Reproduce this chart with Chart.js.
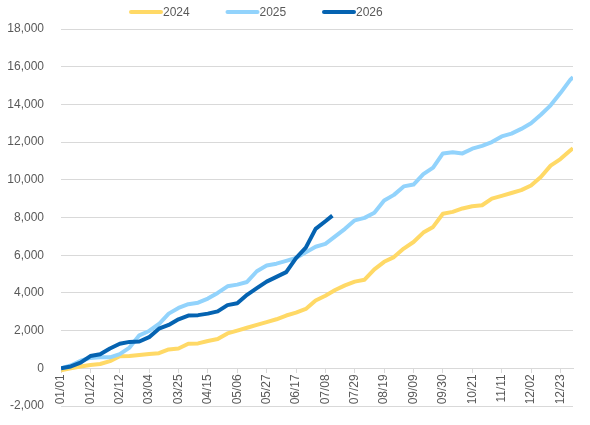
<!DOCTYPE html>
<html lang="en">
<head>
    <meta charset="UTF-8">
    <script src="https://cdn.jsdelivr.net/npm/chart.js"></script>
    <title>Cumulative by year</title>
    <style>
        body { margin: 0; background: #fff; }
        #chart { width: 590px; height: 425px; display: block; }
    </style>
</head>
<body>
    <div id="chart"><canvas id="cumulative"></canvas></div>

    <script>
        // day of year (0 = 01/01), sampled weekly
        const days = [0, 7, 14, 21, 28, 35, 42, 49, 56, 63, 70, 77, 84, 91, 98, 105, 112, 119, 126, 133,
            140, 147, 154, 161, 168, 175, 182, 189, 196, 203, 210, 217, 224, 231, 238, 245, 252, 259, 266,
            273, 280, 287, 294, 301, 308, 315, 322, 329, 336, 343, 350, 357, 364, 366];
        const days2026 = [0, 7, 14, 21, 28, 35, 42, 49, 56, 63, 70, 77, 84, 91, 98, 105, 112, 119, 126, 133,
            140, 147, 154, 161, 168, 175, 182, 189, 194];

        const values2024 = [-100, 0, 100, 180, 230, 380, 640, 650, 700, 760, 800, 1000, 1050, 1300, 1320, 1450,
            1550, 1850, 2000, 2150, 2300, 2450, 2600, 2800, 2950, 3150, 3600, 3850, 4150, 4400, 4600, 4700,
            5250, 5650, 5900, 6350, 6700, 7200, 7500, 8200, 8300, 8480, 8600, 8650, 9000, 9150, 9300, 9450,
            9700, 10150, 10750, 11100, 11550, 11680];
        const values2025 = [0, 150, 400, 550, 580, 580, 750, 1100, 1750, 1980, 2350, 2900, 3200, 3400, 3480, 3700,
            4000, 4350, 4440, 4580, 5150, 5450, 5550, 5700, 5850, 6150, 6450, 6600, 7000, 7400, 7850, 7980,
            8250, 8900, 9200, 9650, 9750, 10300, 10650, 11400, 11460, 11400, 11650, 11800, 12000, 12300, 12450,
            12700, 13000, 13450, 13950, 14600, 15300, 15450];
        const values2026 = [0, 100, 300, 650, 750, 1050, 1300, 1400, 1420, 1650, 2100, 2300, 2600, 2800, 2820, 2900,
            3020, 3350, 3450, 3900, 4250, 4600, 4850, 5100, 5850, 6400, 7400, 7800, 8100];

        const tickLabels = ['01/01', '01/22', '02/12', '03/04', '03/25', '04/15', '05/06', '05/27', '06/17',
            '07/08', '07/29', '08/19', '09/09', '09/30', '10/21', '11/11', '12/02', '12/23'];
        const tickStep = 21;

        const textColor = '#595959';
        const gridColor = '#d9d9d9';

        Chart.defaults.font.family = '"Liberation Sans", Arial, sans-serif';
        Chart.defaults.font.size = 12;
        Chart.defaults.color = textColor;

        function points(xs, ys) {
            return ys.map((y, i) => ({ x: xs[i], y: y }));
        }

        // legend drawn as a row of line samples above the plot
        const topLegend = {
            id: 'topLegend',
            afterDraw(chart) {
                const ctx = chart.ctx;
                ctx.save();
                ctx.font = '12px "Liberation Sans", Arial, sans-serif';
                ctx.textBaseline = 'middle';
                chart.data.datasets.forEach((ds, i) => {
                    const x = 131 + i * 96.5, y = 12;
                    ctx.strokeStyle = ds.borderColor;
                    ctx.lineWidth = 4;
                    ctx.lineCap = 'round';
                    ctx.beginPath();
                    ctx.moveTo(x, y);
                    ctx.lineTo(x + 30, y);
                    ctx.stroke();
                    ctx.fillStyle = textColor;
                    ctx.fillText(ds.label, x + 32, y + 1);
                });
                ctx.restore();
            }
        };

        new Chart(document.getElementById('cumulative'), {
            type: 'line',
            data: {
                datasets: [{
                    label: '2024',
                    data: points(days, values2024),
                    borderColor: '#ffd966',
                    order: 2
                },
                {
                    label: '2025',
                    data: points(days, values2025),
                    borderColor: '#92d3fc',
                    order: 1
                },
                {
                    label: '2026',
                    data: points(days2026, values2026),
                    borderColor: '#0563b1',
                    order: 0
                }]
            },
            options: {
                responsive: true,
                maintainAspectRatio: false,
                animation: false,
                layout: { padding: { top: 29, right: 17, bottom: 19, left: 0 } },
                elements: {
                    point: { radius: 0 },
                    line: { borderWidth: 4, tension: 0, borderJoinStyle: 'round' }
                },
                scales: {
                    x: {
                        type: 'linear',
                        position: { y: 0 },
                        min: 0,
                        max: 366,
                        afterBuildTicks: scale => {
                            scale.ticks = tickLabels.map((l, i) => ({ value: i * tickStep }));
                        },
                        ticks: {
                            autoSkip: false,
                            minRotation: 90,
                            maxRotation: 90,
                            padding: 2,
                            callback: (v, i) => tickLabels[i]
                        },
                        grid: {
                            drawOnChartArea: false,
                            drawTicks: true,
                            tickLength: 4,
                            color: gridColor
                        },
                        border: { display: true, color: gridColor }
                    },
                    y: {
                        min: -2000,
                        max: 18000,
                        afterFit: scale => { scale.width = 61; },
                        ticks: {
                            stepSize: 2000,
                            padding: 1,
                            callback: v => v.toLocaleString('en-US')
                        },
                        grid: { color: gridColor, drawTicks: true, tickLength: 16, tickColor: 'rgba(0,0,0,0)' },
                        border: { display: false }
                    }
                },
                plugins: {
                    legend: { display: false },
                    tooltip: { enabled: false }
                }
            },
            plugins: [topLegend]
        });
    </script>
</body>
</html>
